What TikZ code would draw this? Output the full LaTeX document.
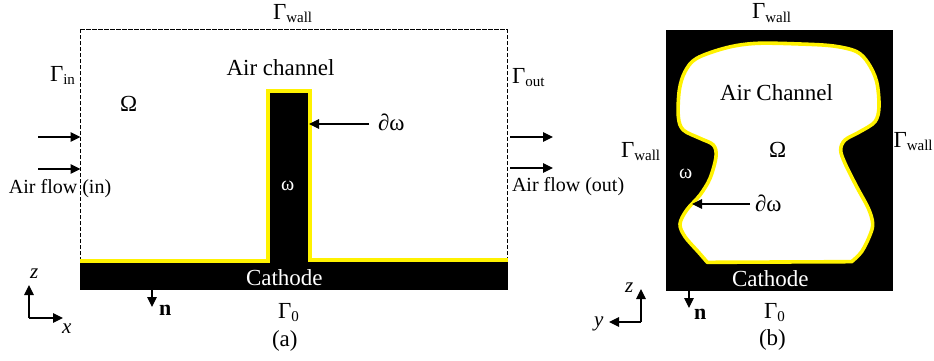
\documentclass[tikz,border=0pt]{standalone}
\usepackage{fontspec}
\setmainfont{Liberation Serif}
\usetikzlibrary{arrows.meta}
\newcommand{\Gsub}[1]{Γ{\fontsize{15}{16}\selectfont\raisebox{-3.5pt}{#1}}}
\tikzset{
  lab/.style={anchor=base west,inner sep=0pt,outer sep=0pt,font=\fontsize{23}{24}\selectfont},
  small/.style={lab,font=\fontsize{20}{22}\selectfont},
  ital/.style={lab,font=\fontsize{21}{22}\selectfont\itshape},
  boldlab/.style={lab,font=\fontsize{22}{22}\selectfont\bfseries},
  arr/.style={-{Triangle[length=10pt,width=9.5pt]},line width=1.2pt,black},
  bnd/.style={yellow,line width=4pt},
  dashside/.style={dash pattern=on 4pt off 2pt,line width=.8pt,black},
  dashtop/.style={dash pattern=on 5pt off 1pt,line width=.9pt,black}
}
\begin{document}
\begin{tikzpicture}[x=1pt,y=-1pt]
\useasboundingbox (0,0) rectangle (934,360);
% ---------- (a)
\coordinate (tl) at (80,29); \coordinate (tr) at (507.7,29);
\coordinate (bl) at (80,261); \coordinate (br) at (507.7,260);
\draw[dashside] (bl) -- (tl);
\draw[dashtop] (tl) -- (tr);
\draw[dashside] (tr) -- (br);
\fill[black] (80,262) rectangle (508,290);
\fill[black] (270,92) rectangle (308.5,263);
\draw[bnd,line join=miter] (80,260.7) -- (268,260.7) -- (268,91) -- (310.3,91) -- (310.3,259.7) -- (507.7,259.7);
\node[lab] (wa) at (273,19) {\Gsub{wall}};
\node[lab] (ga) at (50,81) {\Gsub{in}};
\node[lab] (gao) at (512,83) {\Gsub{out}};
\node[lab] (aa) at (226.5,75) {Air channel};
\node[lab] (oa) at (120,111) {Ω};
\node[small,text=white] (woa) at (281,190) {ω};
\node[lab] (doa) at (378,130) {∂ω};
\node[small] (ina) at (9,193) {Air flow (in)};
\node[small] (outa) at (512,191) {Air flow (out)};
\node[lab,text=white] (ca) at (246,285) {Cathode};
\node[lab] (g0a) at (278,318) {\Gsub{0}};
\node[lab] (la) at (272,346.5) {(a)};
\node[boldlab] (na) at (159,315) {n};
\coordinate (i1s) at (38,137); \coordinate (i1e) at (80.5,137);
\coordinate (i2s) at (38,169); \coordinate (i2e) at (80.5,169);
\coordinate (o1s) at (510,137); \coordinate (o1e) at (553,137);
\coordinate (o2s) at (510,168); \coordinate (o2e) at (553,168);
\coordinate (dsa) at (369,124); \coordinate (dea) at (309,124);
\coordinate (nsa) at (152,290); \coordinate (nea) at (152,307);
\draw[arr] (i1s) -- (i1e);
\draw[arr] (i2s) -- (i2e);
\draw[arr] (o1s) -- (o1e);
\draw[arr] (o2s) -- (o2e);
\draw[arr] (dsa) -- (dea);
\draw[arr] (nsa) -- (nea);
\coordinate (oxa) at (29,318); \coordinate (zea) at (29,285); \coordinate (xea) at (63,318);
\draw[arr] (oxa) -- (zea);
\draw[arr] (oxa) -- (xea);
\node[ital] (za) at (30,278) {z};
\node[ital] (xa) at (62,333) {x};
% ---------- (b)
\fill[black] (665.5,30) rectangle (893,291);
\begin{scope}[shift={(600,0)},scale=1/3]
\draw[bnd,line width=3.6pt,fill=white,line join=round]
  plot[smooth,tension=.55] coordinates {(322,787) (296,757) (255,710) (240,672) (260,630) (300,585) (330,535) (348,470) (340,435) (300,415) (250,390) (235,350) (238,270) (255,215) (290,175) (380,143) (470,130) (600,132) (700,138) (770,155) (805,190) (830,245) (837,320) (825,365) (780,395) (735,420) (722,450) (735,490) (770,560) (805,625) (818,670) (810,705) (785,755) (755,785)}
  -- (322,787) -- cycle;
\end{scope}
\node[lab] (wb) at (752,18.5) {\Gsub{wall}};
\node[lab] (wbl) at (621,157) {\Gsub{wall}};
\node[lab] (wbr) at (893.5,147) {\Gsub{wall}};
\node[lab] (ab) at (720,100) {Air Channel};
\node[lab] (ob) at (769,157) {Ω};
\node[small,text=white] (wob) at (679,178) {ω};
\node[lab] (dob) at (755,211) {∂ω};
\node[lab,text=white] (cb) at (732,286) {Cathode};
\node[lab] (g0b) at (764,318) {\Gsub{0}};
\node[lab] (lb) at (759,345.5) {(b)};
\node[boldlab] (nb) at (694,319) {n};
\coordinate (dsb) at (750,204); \coordinate (deb) at (692,204);
\coordinate (nsb) at (689,291); \coordinate (neb) at (689,308);
\draw[arr] (dsb) -- (deb);
\draw[arr] (nsb) -- (neb);
\coordinate (oxb) at (641,322); \coordinate (zeb) at (641,289); \coordinate (yeb) at (609,322);
\draw[arr] (oxb) -- (zeb);
\draw[arr] (oxb) -- (yeb);
\node[ital] (zb) at (625,292) {z};
\node[ital] (yb) at (594,326) {y};
\end{tikzpicture}
\end{document}
